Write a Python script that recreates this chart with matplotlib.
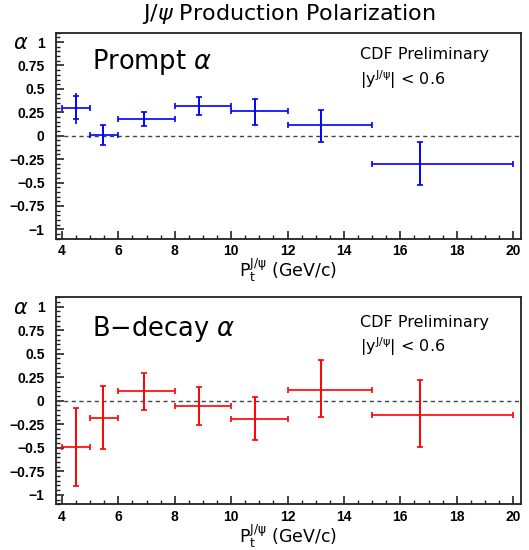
import numpy as np
import matplotlib
matplotlib.use("Agg")
import matplotlib.pyplot as plt
from matplotlib.ticker import MultipleLocator, FixedLocator

plt.rcParams["font.family"] = ["DejaVu Sans"]
plt.rcParams["mathtext.fontset"] = "dejavusans"

# bins in Pt (GeV/c)
bin_lo = [4, 5, 6, 8, 10, 12, 15]
bin_hi = [5, 6, 8, 10, 12, 15, 20]
pt_mean = [4.5, 5.45, 6.9, 8.85, 10.85, 13.2, 16.7]

# prompt alpha
prompt_alpha = [0.30, 0.01, 0.18, 0.32, 0.26, 0.11, -0.30]
prompt_hi = [0.42, 0.11, 0.25, 0.41, 0.39, 0.275, -0.068]
prompt_lo = [0.175, -0.10, 0.10, 0.22, 0.115, -0.065, -0.525]
prompt_tot_hi = [0.46, 0.11, 0.25, 0.41, 0.39, 0.275, -0.068]
prompt_tot_lo = [0.13, -0.10, 0.10, 0.22, 0.115, -0.065, -0.525]

# B-decay alpha
bdecay_alpha = [-0.49, -0.18, 0.107, -0.054, -0.19, 0.115, -0.153]
bdecay_hi = [-0.072, 0.153, 0.30, 0.143, 0.043, 0.43, 0.225]
bdecay_lo = [-0.91, -0.51, -0.096, -0.257, -0.418, -0.168, -0.49]

yticks = [1, 0.75, 0.5, 0.25, 0, -0.25, -0.5, -0.75, -1]
ytick_labels = ["1", "0.75", "0.5", "0.25", "0", "\u22120.25", "\u22120.5", "\u22120.75", "\u22121"]
xticks = [4, 6, 8, 10, 12, 14, 16, 18, 20]

fig = plt.figure(figsize=(5.29, 5.5), dpi=100)
ax1 = fig.add_axes([0.1053, 0.566, 0.8796, 0.3745])
ax2 = fig.add_axes([0.1053, 0.0831, 0.8796, 0.3764])


def draw_panel(ax, y, lo, hi, tot_lo, tot_hi, color, label, ytxt):
    x = np.array(pt_mean)
    y = np.array(y)
    xerr = [x - np.array(bin_lo), np.array(bin_hi) - x]
    # total error lines (no caps)
    ax.vlines(x, tot_lo, tot_hi, color=color, lw=1.2, zorder=3)
    ax.errorbar(x, y, xerr=xerr, yerr=[y - np.array(lo), np.array(hi) - y],
                fmt="none", ecolor=color, elinewidth=1.2, capsize=2.5,
                capthick=1.2, zorder=3)
    ax.axhline(0, color="#444444", lw=1, ls=(0, (3, 2.5)), zorder=2)
    ax.set_xlim(3.78, 20.28)
    ax.set_ylim(-1.1, 1.1)
    ax.xaxis.set_major_locator(FixedLocator(xticks))
    ax.xaxis.set_minor_locator(MultipleLocator(0.5))
    ax.set_yticks(yticks)
    ax.set_yticklabels(ytick_labels)
    ax.yaxis.set_minor_locator(MultipleLocator(0.05))
    ax.tick_params(which="both", direction="in", top=False, right=False,
                   colors="#222222", labelcolor="black")
    ax.tick_params(which="major", length=6, width=1.2, labelsize=10)
    ax.tick_params(axis="y", which="major", pad=8)
    ax.tick_params(axis="x", which="major", pad=4)
    ax.tick_params(which="minor", length=3, width=1.0)
    for t in ax.get_xticklabels() + ax.get_yticklabels():
        t.set_fontweight("bold")
        t.set_family("Liberation Sans")
    for s in ax.spines.values():
        s.set_linewidth(1.3)
        s.set_color("#222222")
    ax.text(0.078, ytxt, label, transform=ax.transAxes, fontsize=18.5,
            va="center", ha="left")
    ax.text(0.654, ytxt + 0.035, "CDF Preliminary", transform=ax.transAxes,
            fontsize=11.5, va="center", ha="left")
    ax.text(0.654, ytxt - 0.085, r"$\mathrm{|y^{J/\psi}|}$ < 0.6",
            transform=ax.transAxes, fontsize=11.5, va="center", ha="left")
    ax.text(-0.075, 0.95, r"$\alpha$", transform=ax.transAxes, fontsize=15,
            va="center", ha="center")
    ax.set_xlabel(r"$\mathrm{P_t^{J/\psi}}$ (GeV/c)", fontsize=12.5, labelpad=-1)


draw_panel(ax1, prompt_alpha, prompt_lo, prompt_hi, prompt_tot_lo, prompt_tot_hi,
           "#0000ff", r"Prompt $\alpha$", 0.858)
draw_panel(ax2, bdecay_alpha, bdecay_lo, bdecay_hi, bdecay_lo, bdecay_hi,
           "#ff0000", r"B$-$decay $\alpha$", 0.845)

fig.text(0.545, 0.9745, r"J/$\psi$ Production Polarization", fontsize=16,
         ha="center", va="center")

fig.savefig("out.png", dpi=100)
